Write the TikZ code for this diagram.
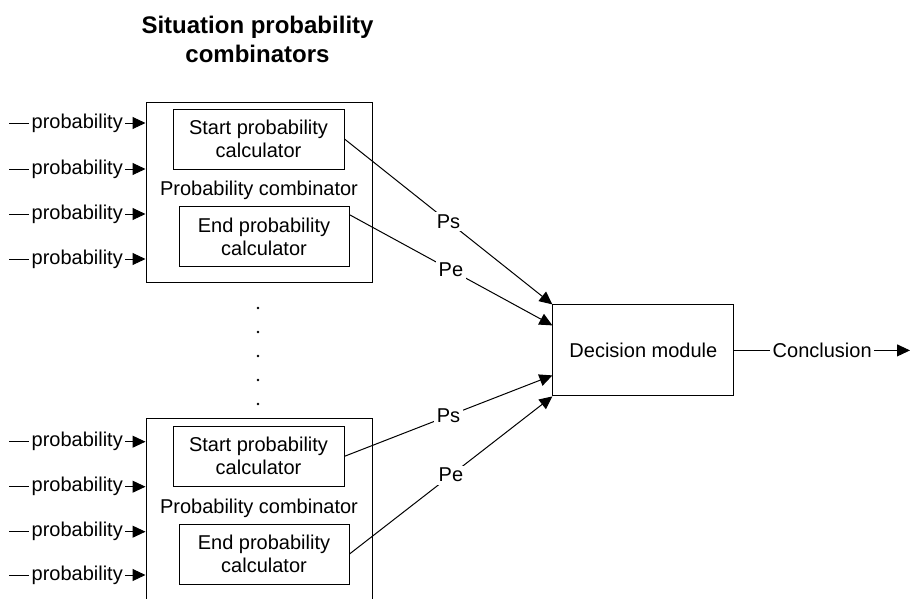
\documentclass[tikz,border=0pt]{standalone}
\usepackage{fontspec}
\setmainfont{Liberation Sans}
\usetikzlibrary{arrows.meta}
\tikzstyle{combinator} = [rectangle, draw=black, minimum width=226pt, minimum height=180pt]
\tikzstyle{calc} = [rectangle, draw=black, minimum height=60pt, align=center, text centered]
\tikzstyle{decision} = [rectangle, draw=black, minimum width=181pt, minimum height=91pt]
\tikzstyle{lbl} = [fill=white, inner sep=2.5pt]
\tikzstyle{arrow} = [-{Triangle[length=13pt,width=12pt]}]

\begin{document}
\begin{tikzpicture}[x=1pt, y=-1pt, line width=1pt, font=\fontsize{20}{23}\selectfont]
\useasboundingbox (0,0) rectangle (911,598);

\node (title) at (257.5,39) [align=center, font=\bfseries\fontsize{24}{29}\selectfont] {Situation probability\\combinators};

% upper combinator
\node (comb1) at (259,192) [combinator] {};
\node (start1) at (258.5,139) [calc, minimum width=171pt] {Start probability\\calculator};
\node (lab1) at (259,190) {Probability combinator};
\node (end1) at (264,236.7) [calc, minimum width=170pt] {End probability\\calculator};

% lower combinator (cut off at the bottom)
\node (comb2) at (259,510.3) [combinator, minimum height=184pt] {};
\node (start2) at (258.5,456.3) [calc, minimum width=171pt] {Start probability\\calculator};
\node (lab2) at (259,508) {Probability combinator};
\node (end2) at (264,554) [calc, minimum width=170pt] {End probability\\calculator};

\node (dec) at (643.4,350.4) [decision] {Decision module};
\coordinate (out) at (910,350.4);

% inputs
\foreach \y [count=\i] in {123,169,214,259} {
  \coordinate (a\i) at (9,\y);
  \draw [arrow] (a\i) -- node[lbl]{probability} (a\i -| comb1.west);
}
\foreach \y [count=\i] in {441.7,486.7,531.7,575} {
  \coordinate (b\i) at (9,\y);
  \draw [arrow] (b\i) -- node[lbl]{probability} (b\i -| comb2.west);
}

% dots between the combinators
\foreach \y in {308,332,356,380,404}
  \fill (258,\y) circle (1.3);

\draw [arrow] (start1.east) -- node[lbl]{Ps} (dec.north west);
\draw [arrow] ([yshift=22pt]end1.east) -- node[lbl]{Pe} ([yshift=25pt]dec.west);
\draw [arrow] (start2.east) -- node[lbl]{Ps} ([yshift=-25pt]dec.west);
\draw [arrow] (end2.east) -- node[lbl]{Pe} (dec.south west);

\draw [arrow] (dec) -- node[lbl]{Conclusion} (out);

\end{tikzpicture}
\end{document}
